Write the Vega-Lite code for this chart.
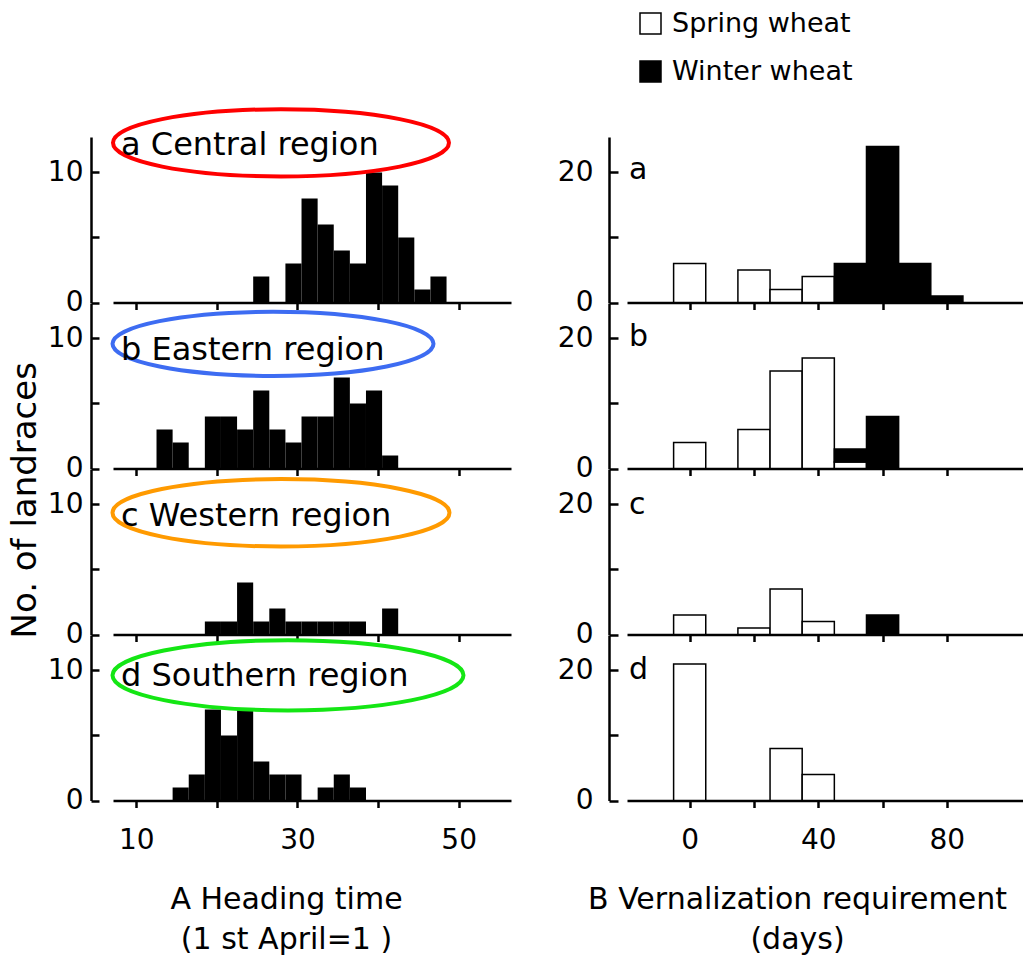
{
  "$schema": "https://vega.github.io/schema/vega-lite/v6.json",
  "background": "white",
  "padding": {"left": 9, "top": 10, "right": 0, "bottom": 3},
  "title": {"text": "No. of landraces", "orient": "left", "anchor": "middle", "fontSize": 34, "fontWeight": "normal", "font": "DejaVu Sans", "color": "black", "offset": 4, "dx": -18},
  "datasets": {
    "heading": [
      {"r": "a", "s": 24.5, "e": 26.5, "n": 2},
      {"r": "a", "s": 28.5, "e": 30.5, "n": 3},
      {"r": "a", "s": 30.5, "e": 32.5, "n": 8},
      {"r": "a", "s": 32.5, "e": 34.5, "n": 6},
      {"r": "a", "s": 34.5, "e": 36.5, "n": 4},
      {"r": "a", "s": 36.5, "e": 38.5, "n": 3},
      {"r": "a", "s": 38.5, "e": 40.5, "n": 10},
      {"r": "a", "s": 40.5, "e": 42.5, "n": 9},
      {"r": "a", "s": 42.5, "e": 44.5, "n": 5},
      {"r": "a", "s": 44.5, "e": 46.5, "n": 1},
      {"r": "a", "s": 46.5, "e": 48.5, "n": 2},
      {"r": "b", "s": 12.5, "e": 14.5, "n": 3},
      {"r": "b", "s": 14.5, "e": 16.5, "n": 2},
      {"r": "b", "s": 18.5, "e": 20.5, "n": 4},
      {"r": "b", "s": 20.5, "e": 22.5, "n": 4},
      {"r": "b", "s": 22.5, "e": 24.5, "n": 3},
      {"r": "b", "s": 24.5, "e": 26.5, "n": 6},
      {"r": "b", "s": 26.5, "e": 28.5, "n": 3},
      {"r": "b", "s": 28.5, "e": 30.5, "n": 2},
      {"r": "b", "s": 30.5, "e": 32.5, "n": 4},
      {"r": "b", "s": 32.5, "e": 34.5, "n": 4},
      {"r": "b", "s": 34.5, "e": 36.5, "n": 7},
      {"r": "b", "s": 36.5, "e": 38.5, "n": 5},
      {"r": "b", "s": 38.5, "e": 40.5, "n": 6},
      {"r": "b", "s": 40.5, "e": 42.5, "n": 1},
      {"r": "c", "s": 18.5, "e": 20.5, "n": 1},
      {"r": "c", "s": 20.5, "e": 22.5, "n": 1},
      {"r": "c", "s": 22.5, "e": 24.5, "n": 4},
      {"r": "c", "s": 24.5, "e": 26.5, "n": 1},
      {"r": "c", "s": 26.5, "e": 28.5, "n": 2},
      {"r": "c", "s": 28.5, "e": 30.5, "n": 1},
      {"r": "c", "s": 30.5, "e": 32.5, "n": 1},
      {"r": "c", "s": 32.5, "e": 34.5, "n": 1},
      {"r": "c", "s": 34.5, "e": 36.5, "n": 1},
      {"r": "c", "s": 36.5, "e": 38.5, "n": 1},
      {"r": "c", "s": 40.5, "e": 42.5, "n": 2},
      {"r": "d", "s": 14.5, "e": 16.5, "n": 1},
      {"r": "d", "s": 16.5, "e": 18.5, "n": 2},
      {"r": "d", "s": 18.5, "e": 20.5, "n": 7},
      {"r": "d", "s": 20.5, "e": 22.5, "n": 5},
      {"r": "d", "s": 22.5, "e": 24.5, "n": 7},
      {"r": "d", "s": 24.5, "e": 26.5, "n": 3},
      {"r": "d", "s": 26.5, "e": 28.5, "n": 2},
      {"r": "d", "s": 28.5, "e": 30.5, "n": 2},
      {"r": "d", "s": 32.5, "e": 34.5, "n": 1},
      {"r": "d", "s": 34.5, "e": 36.5, "n": 2},
      {"r": "d", "s": 36.5, "e": 38.5, "n": 1}
    ],
    "vern": [
      {"r": "a", "s": -5, "e": 5, "t": "Spring wheat", "n": 6},
      {"r": "a", "s": 15, "e": 25, "t": "Spring wheat", "n": 5},
      {"r": "a", "s": 25, "e": 35, "t": "Spring wheat", "n": 2},
      {"r": "a", "s": 35, "e": 45, "t": "Spring wheat", "n": 4},
      {"r": "a", "s": 45, "e": 55, "t": "Winter wheat", "n": 6},
      {"r": "a", "s": 55, "e": 65, "t": "Winter wheat", "n": 24},
      {"r": "a", "s": 65, "e": 75, "t": "Winter wheat", "n": 6},
      {"r": "a", "s": 75, "e": 85, "t": "Winter wheat", "n": 1},
      {"r": "b", "s": -5, "e": 5, "t": "Spring wheat", "n": 4},
      {"r": "b", "s": 15, "e": 25, "t": "Spring wheat", "n": 6},
      {"r": "b", "s": 25, "e": 35, "t": "Spring wheat", "n": 15},
      {"r": "b", "s": 35, "e": 45, "t": "Spring wheat", "n": 17},
      {"r": "b", "s": 45, "e": 55, "t": "Spring wheat", "n": 1},
      {"r": "b", "s": 45, "e": 55, "t": "Winter wheat", "n": 2},
      {"r": "b", "s": 55, "e": 65, "t": "Winter wheat", "n": 8},
      {"r": "c", "s": -5, "e": 5, "t": "Spring wheat", "n": 3},
      {"r": "c", "s": 15, "e": 25, "t": "Spring wheat", "n": 1},
      {"r": "c", "s": 25, "e": 35, "t": "Spring wheat", "n": 7},
      {"r": "c", "s": 35, "e": 45, "t": "Spring wheat", "n": 2},
      {"r": "c", "s": 55, "e": 65, "t": "Winter wheat", "n": 3},
      {"r": "d", "s": -5, "e": 5, "t": "Spring wheat", "n": 21},
      {"r": "d", "s": 25, "e": 35, "t": "Spring wheat", "n": 8},
      {"r": "d", "s": 35, "e": 45, "t": "Spring wheat", "n": 4}
    ],
    "notes": [
      {"r": "a", "day": 27.95, "n": 12.28},
      {"r": "b", "day": 26.96, "n": 9.59},
      {"r": "c", "day": 27.95, "n": 9.36},
      {"r": "d", "day": 28.82, "n": 9.63}
    ]
  },
  "columns": 2,
  "spacing": {"row": 0, "column": 116},
  "bounds": "flush",
  "concat": [
    {
      "width": 398, "height": 165.5,
      "title": {"text": "a Central region", "anchor": "start", "frame": "group", "offset": -85.8, "dx": 8, "baseline": "alphabetic", "fontSize": 32},
      "layer": [
        {"data": {"name": "heading"}, "transform": [{"filter": "datum.r == 'a'"}],
         "mark": {"type": "rect", "color": "black"},
         "encoding": {
           "x": {"field": "s", "type": "quantitative", "scale": {"domain": [7.1, 56.5], "nice": false, "zero": false}, "axis": {"values": [10, 20, 30, 40, 50], "labels": false, "title": null, "tickSize": 7}},
           "x2": {"field": "e"},
           "y": {"field": "n", "type": "quantitative", "scale": {"domain": [0, 12.73], "nice": false}, "axis": {"values": [0, 5, 10], "labelExpr": "datum.value == 5 ? '' : datum.label", "tickSize": -8, "labelPadding": 16, "offset": 22, "title": null}},
           "y2": {"datum": 0}
         }},
        {"data": {"name": "notes"}, "transform": [{"filter": "datum.r == 'a'"}],
         "mark": {"type": "point", "shape": "M -1 0 A 1 0.2 0 1 1 1 0 A 1 0.2 0 1 1 -1 0 Z", "filled": false, "stroke": "#ff0000", "strokeWidth": 4, "size": 112896, "opacity": 1},
         "encoding": {"x": {"field": "day", "type": "quantitative"}, "y": {"field": "n", "type": "quantitative"}}}
      ]
    },
    {
      "width": 397, "height": 165.5,
      "title": {"text": "a", "anchor": "start", "frame": "group", "offset": -71.8, "dx": 2, "baseline": "alphabetic", "fontSize": 30},
      "data": {"name": "vern"},
      "transform": [{"filter": "datum.r == 'a'"}, {"stack": "n", "groupby": ["s"], "sort": [{"field": "t"}], "as": ["y0", "y1"]}],
      "mark": {"type": "rect", "stroke": "black", "strokeWidth": 1.5},
      "encoding": {
        "x": {"field": "s", "type": "quantitative", "scale": {"domain": [-19.5, 104], "nice": false, "zero": false}, "axis": {"values": [0, 20, 40, 60, 80], "labels": false, "title": null, "tickSize": 7}},
        "x2": {"field": "e"},
        "y": {"field": "y1", "type": "quantitative", "scale": {"domain": [0, 25.46], "nice": false}, "axis": {"values": [0, 10, 20], "labelExpr": "datum.value == 10 ? '' : datum.label", "tickSize": -9, "labelPadding": 25, "offset": 18, "title": null}},
        "y2": {"field": "y0"},
        "fill": {"field": "t", "type": "nominal", "scale": {"domain": ["Spring wheat", "Winter wheat"], "range": ["white", "black"]}, "legend": {"orient": "none", "legendX": 524, "legendY": -127, "title": null, "direction": "vertical", "symbolType": "square", "symbolSize": 441, "symbolStrokeColor": "black", "symbolStrokeWidth": 1.5, "labelFontSize": 27, "labelColor": "black", "labelOffset": 8, "rowPadding": 20, "labelLimit": 400}}
      }
    },
    {
      "width": 398, "height": 165.5,
      "title": {"text": "b Eastern region", "anchor": "start", "frame": "group", "offset": -89.3, "dx": 8, "baseline": "alphabetic", "fontSize": 32},
      "layer": [
        {"data": {"name": "heading"}, "transform": [{"filter": "datum.r == 'b'"}],
         "mark": {"type": "rect", "color": "black"},
         "encoding": {
           "x": {"field": "s", "type": "quantitative", "scale": {"domain": [7.1, 56.5], "nice": false, "zero": false}, "axis": {"values": [10, 20, 30, 40, 50], "labels": false, "title": null, "tickSize": 7}},
           "x2": {"field": "e"},
           "y": {"field": "n", "type": "quantitative", "scale": {"domain": [0, 12.73], "nice": false}, "axis": {"values": [0, 5, 10], "labelExpr": "datum.value == 5 ? '' : datum.label", "tickSize": -8, "labelPadding": 16, "offset": 22, "title": null}},
           "y2": {"datum": 0}
         }},
        {"data": {"name": "notes"}, "transform": [{"filter": "datum.r == 'b'"}],
         "mark": {"type": "point", "shape": "M -1 0 A 1 0.2 0 1 1 1 0 A 1 0.2 0 1 1 -1 0 Z", "filled": false, "stroke": "#3d6cf2", "strokeWidth": 4, "size": 103041, "opacity": 1},
         "encoding": {"x": {"field": "day", "type": "quantitative"}, "y": {"field": "n", "type": "quantitative"}}}
      ]
    },
    {
      "width": 397, "height": 165.5,
      "title": {"text": "b", "anchor": "start", "frame": "group", "offset": -73.3, "dx": 2, "baseline": "alphabetic", "fontSize": 30},
      "data": {"name": "vern"},
      "transform": [{"filter": "datum.r == 'b'"}, {"stack": "n", "groupby": ["s"], "sort": [{"field": "t"}], "as": ["y0", "y1"]}],
      "mark": {"type": "rect", "stroke": "black", "strokeWidth": 1.5},
      "encoding": {
        "x": {"field": "s", "type": "quantitative", "scale": {"domain": [-19.5, 104], "nice": false, "zero": false}, "axis": {"values": [0, 20, 40, 60, 80], "labels": false, "title": null, "tickSize": 7}},
        "x2": {"field": "e"},
        "y": {"field": "y1", "type": "quantitative", "scale": {"domain": [0, 25.46], "nice": false}, "axis": {"values": [0, 10, 20], "labelExpr": "datum.value == 10 ? '' : datum.label", "tickSize": -9, "labelPadding": 25, "offset": 18, "title": null}},
        "y2": {"field": "y0"},
        "fill": {"field": "t", "type": "nominal", "scale": {"domain": ["Spring wheat", "Winter wheat"], "range": ["white", "black"]}, "legend": {"orient": "none", "legendX": 524, "legendY": -127, "title": null, "direction": "vertical", "symbolType": "square", "symbolSize": 441, "symbolStrokeColor": "black", "symbolStrokeWidth": 1.5, "labelFontSize": 27, "labelColor": "black", "labelOffset": 8, "rowPadding": 20, "labelLimit": 400}}
      }
    },
    {
      "width": 398, "height": 165.5,
      "title": {"text": "c Western region", "anchor": "start", "frame": "group", "offset": -89, "dx": 8, "baseline": "alphabetic", "fontSize": 32},
      "layer": [
        {"data": {"name": "heading"}, "transform": [{"filter": "datum.r == 'c'"}],
         "mark": {"type": "rect", "color": "black"},
         "encoding": {
           "x": {"field": "s", "type": "quantitative", "scale": {"domain": [7.1, 56.5], "nice": false, "zero": false}, "axis": {"values": [10, 20, 30, 40, 50], "labels": false, "title": null, "tickSize": 7}},
           "x2": {"field": "e"},
           "y": {"field": "n", "type": "quantitative", "scale": {"domain": [0, 12.73], "nice": false}, "axis": {"values": [0, 5, 10], "labelExpr": "datum.value == 5 ? '' : datum.label", "tickSize": -8, "labelPadding": 16, "offset": 22, "title": null}},
           "y2": {"datum": 0}
         }},
        {"data": {"name": "notes"}, "transform": [{"filter": "datum.r == 'c'"}],
         "mark": {"type": "point", "shape": "M -1 0 A 1 0.2 0 1 1 1 0 A 1 0.2 0 1 1 -1 0 Z", "filled": false, "stroke": "#ff9a00", "strokeWidth": 4, "size": 113569, "opacity": 1},
         "encoding": {"x": {"field": "day", "type": "quantitative"}, "y": {"field": "n", "type": "quantitative"}}}
      ]
    },
    {
      "width": 397, "height": 165.5,
      "title": {"text": "c", "anchor": "start", "frame": "group", "offset": -74.8, "dx": 2, "baseline": "alphabetic", "fontSize": 30},
      "data": {"name": "vern"},
      "transform": [{"filter": "datum.r == 'c'"}, {"stack": "n", "groupby": ["s"], "sort": [{"field": "t"}], "as": ["y0", "y1"]}],
      "mark": {"type": "rect", "stroke": "black", "strokeWidth": 1.5},
      "encoding": {
        "x": {"field": "s", "type": "quantitative", "scale": {"domain": [-19.5, 104], "nice": false, "zero": false}, "axis": {"values": [0, 20, 40, 60, 80], "labels": false, "title": null, "tickSize": 7}},
        "x2": {"field": "e"},
        "y": {"field": "y1", "type": "quantitative", "scale": {"domain": [0, 25.46], "nice": false}, "axis": {"values": [0, 10, 20], "labelExpr": "datum.value == 10 ? '' : datum.label", "tickSize": -9, "labelPadding": 25, "offset": 18, "title": null}},
        "y2": {"field": "y0"},
        "fill": {"field": "t", "type": "nominal", "scale": {"domain": ["Spring wheat", "Winter wheat"], "range": ["white", "black"]}, "legend": {"orient": "none", "legendX": 524, "legendY": -127, "title": null, "direction": "vertical", "symbolType": "square", "symbolSize": 441, "symbolStrokeColor": "black", "symbolStrokeWidth": 1.5, "labelFontSize": 27, "labelColor": "black", "labelOffset": 8, "rowPadding": 20, "labelLimit": 400}}
      }
    },
    {
      "width": 398, "height": 165.5,
      "title": {"text": "d Southern region", "anchor": "start", "frame": "group", "offset": -85.3, "dx": 8, "baseline": "alphabetic", "fontSize": 32},
      "layer": [
        {"data": {"name": "heading"}, "transform": [{"filter": "datum.r == 'd'"}],
         "mark": {"type": "rect", "color": "black"},
         "encoding": {
           "x": {"field": "s", "type": "quantitative", "scale": {"domain": [7.1, 56.5], "nice": false, "zero": false}, "axis": {"values": [10, 20, 30, 40, 50], "labelExpr": "datum.value == 20 || datum.value == 40 ? '' : datum.label", "tickSize": 7, "labelPadding": 19, "title": ["A Heading time", "(1 st April=1 )"], "titlePadding": 30, "titleLineHeight": 40, "titleX": 173}},
           "x2": {"field": "e"},
           "y": {"field": "n", "type": "quantitative", "scale": {"domain": [0, 12.73], "nice": false}, "axis": {"values": [0, 5, 10], "labelExpr": "datum.value == 5 ? '' : datum.label", "tickSize": -8, "labelPadding": 16, "offset": 22, "title": null}},
           "y2": {"datum": 0}
         }},
        {"data": {"name": "notes"}, "transform": [{"filter": "datum.r == 'd'"}],
         "mark": {"type": "point", "shape": "M -1 0 A 1 0.2 0 1 1 1 0 A 1 0.2 0 1 1 -1 0 Z", "filled": false, "stroke": "#14e614", "strokeWidth": 4, "size": 123201, "opacity": 1},
         "encoding": {"x": {"field": "day", "type": "quantitative"}, "y": {"field": "n", "type": "quantitative"}}}
      ]
    },
    {
      "width": 397, "height": 165.5,
      "title": {"text": "d", "anchor": "start", "frame": "group", "offset": -74.3, "dx": 2, "baseline": "alphabetic", "fontSize": 30},
      "data": {"name": "vern"},
      "transform": [{"filter": "datum.r == 'd'"}, {"stack": "n", "groupby": ["s"], "sort": [{"field": "t"}], "as": ["y0", "y1"]}],
      "mark": {"type": "rect", "stroke": "black", "strokeWidth": 1.5},
      "encoding": {
        "x": {"field": "s", "type": "quantitative", "scale": {"domain": [-19.5, 104], "nice": false, "zero": false}, "axis": {"values": [0, 20, 40, 60, 80], "labelExpr": "datum.value == 20 || datum.value == 60 ? '' : datum.label", "tickSize": 7, "labelPadding": 19, "title": ["B Vernalization requirement", "(days)"], "titlePadding": 30, "titleLineHeight": 40, "titleX": 170}},
        "x2": {"field": "e"},
        "y": {"field": "y1", "type": "quantitative", "scale": {"domain": [0, 25.46], "nice": false}, "axis": {"values": [0, 10, 20], "labelExpr": "datum.value == 10 ? '' : datum.label", "tickSize": -9, "labelPadding": 25, "offset": 18, "title": null}},
        "y2": {"field": "y0"},
        "fill": {"field": "t", "type": "nominal", "scale": {"domain": ["Spring wheat", "Winter wheat"], "range": ["white", "black"]}, "legend": {"orient": "none", "legendX": 524, "legendY": -127, "title": null, "direction": "vertical", "symbolType": "square", "symbolSize": 441, "symbolStrokeColor": "black", "symbolStrokeWidth": 1.5, "labelFontSize": 27, "labelColor": "black", "labelOffset": 8, "rowPadding": 20, "labelLimit": 400}}
      }
    }
  ],
  "config": {
    "font": "DejaVu Sans",
    "view": {"stroke": null},
    "title": {"color": "black", "fontWeight": "normal", "font": "DejaVu Sans"},
    "axis": {"grid": false, "domainColor": "black", "tickColor": "black", "labelColor": "black", "titleColor": "black", "labelFont": "DejaVu Sans", "titleFont": "DejaVu Sans", "labelFontSize": 28, "titleFontSize": 30, "titleFontWeight": "normal", "labelFlush": false, "labelOverlap": false, "domainWidth": 2.5, "tickWidth": 2.5},
    "legend": {"labelFont": "DejaVu Sans", "padding": 0}
  }
}
